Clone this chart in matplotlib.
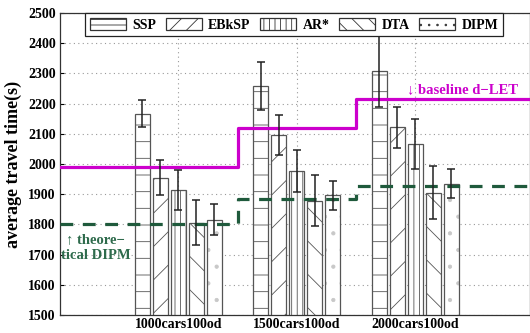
import numpy as np
import matplotlib
matplotlib.use("Agg")
import matplotlib.pyplot as plt
import matplotlib.patches as mpatches

plt.rcParams['font.family'] = ['Liberation Serif', 'DejaVu Serif']
plt.rcParams['font.weight'] = 'bold'
plt.rcParams['hatch.linewidth'] = 0.6

groups = ['1000cars100od', '1500cars100od', '2000cars100od']
methods = ['SSP', 'EBkSP', 'AR*', 'DTA', 'DIPM']
hatches = ['-', '/', '|||', '\\', '.']
leg_hatches = ['---', '//', '|||', '\\\\', '..']

means = {
    'SSP':   [2167, 2258, 2308],
    'EBkSP': [1955, 2096, 2122],
    'AR*':   [1914, 1976, 2065],
    'DTA':   [1806, 1879, 1905],
    'DIPM':  [1816, 1896, 1935],
}
errs = {
    'SSP':   [46, 80, 118],
    'EBkSP': [58, 65, 68],
    'AR*':   [65, 70, 83],
    'DTA':   [74, 84, 87],
    'DIPM':  [52, 48, 48],
}

# step lines: baseline d-LET and theoretical DIPM
step_x = [0, 1.5, 2.5, 4]
baseline = [1990, 2120, 2215, 2215]
theory = [1800, 1885, 1927, 1927]

fig = plt.figure(figsize=(5.30, 3.33), dpi=100)
ax = fig.add_axes([0.113, 0.054, 0.887, 0.907])

x = np.arange(1, len(groups) + 1)
step = 0.152
width = 0.127
for i, m in enumerate(methods):
    pos = x + (i - 2) * step
    hcol = '#c8c8c8' if m == 'DIPM' else '#555555'
    ax.bar(pos, means[m], width, color='white', edgecolor=hcol,
           linewidth=0, hatch=hatches[i], zorder=2)
    ax.bar(pos, means[m], width, fill=False, edgecolor='#555555',
           linewidth=0.9, zorder=2)
    ax.errorbar(pos, means[m], yerr=errs[m], fmt='none', ecolor='#222222',
                elinewidth=1.1, capsize=3, capthick=1.1, zorder=4)

ax.step(step_x, baseline, where='post', color='#cc00cc', lw=2.3, zorder=3)
ax.step(step_x, theory, where='post', color='#1f5a3c', lw=2.3,
        ls=(0, (4, 3)), zorder=3)

ax.text(2.93, 2245, '\u2193 baseline d\u2212LET', color='#cc00cc',
        fontsize=10.5, fontweight='bold', ha='left', va='center')
ax.text(0.30, 1724, '\u2191 theore\u2212\ntical DIPM', color='#2e6b4c',
        fontsize=10.5, fontweight='bold', ha='center', va='center',
        linespacing=1.35)

ax.set_xlim(0, 3.97)
ax.set_ylim(1500, 2500)
ax.set_yticks(np.arange(1500, 2501, 100))
ax.set_xticks(x)
ax.set_xticklabels(groups, fontsize=10, fontweight='bold')
ax.tick_params(axis='y', labelsize=10, direction='in', length=3, pad=3)
ax.tick_params(axis='x', length=0, pad=2)
for lab in ax.get_yticklabels():
    lab.set_fontweight('bold')
ax.set_ylabel('average travel time(s)', fontsize=13, fontweight='bold',
              labelpad=4)
ax.grid(True, ls=(0, (1, 3)), color='#999999', lw=0.8, zorder=0)
ax.set_axisbelow(True)
for sp in ax.spines.values():
    sp.set_color('#333333')
    sp.set_linewidth(0.9)

handles = [mpatches.Patch(facecolor='white', edgecolor='#333333', lw=0.9,
                          hatch=h, label=m)
           for m, h in zip(methods, leg_hatches)]
leg = ax.legend(handles=handles, loc='upper left',
                bbox_to_anchor=(0.053, 1.0), ncol=5,
                borderaxespad=0, fancybox=False, framealpha=1,
                edgecolor='#222222', handlelength=2.6,
                handleheight=0.95, handletextpad=0.45, columnspacing=0.7,
                borderpad=0.35, prop={'weight': 'bold', 'size': 10})
leg.set_zorder(10)
leg.get_frame().set_linewidth(0.9)

fig.savefig('out.png', dpi=100)
